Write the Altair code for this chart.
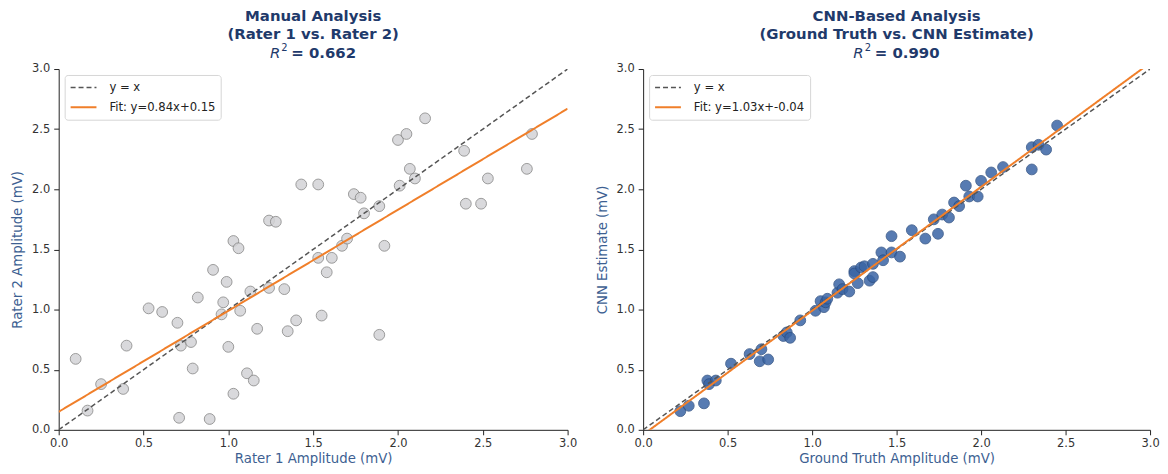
import altair as alt
import pandas as pd

# ---------------- data ----------------
manual_x = [0.10, 0.17, 0.25, 0.38, 0.40, 0.53, 0.61, 0.70, 0.72, 0.78,
            0.79, 0.71, 0.82, 0.91, 0.89, 0.96, 0.97, 0.99, 1.00, 1.03,
            1.03, 1.06, 1.07, 1.11, 1.13, 1.15, 1.17, 1.24, 1.24, 1.28,
            1.33, 1.35, 1.40, 1.43, 1.53, 1.53, 1.55, 1.58, 1.61, 1.67,
            1.70, 1.74, 1.78, 1.80, 1.89, 1.89, 1.92, 2.00, 2.01, 2.05,
            2.07, 2.10, 2.16, 2.39, 2.40, 2.49, 2.53, 2.76, 2.79]
manual_y = [0.59, 0.16, 0.38, 0.34, 0.70, 1.01, 0.98, 0.89, 0.70, 0.73,
            0.51, 0.10, 1.10, 1.33, 0.09, 0.96, 1.06, 1.23, 0.69, 0.30,
            1.57, 1.51, 0.99, 0.47, 1.15, 0.41, 0.84, 1.18, 1.74, 1.73,
            1.17, 0.82, 0.91, 2.04, 2.04, 1.43, 0.95, 1.31, 1.43, 1.53,
            1.59, 1.96, 1.93, 1.80, 1.86, 0.79, 1.53, 2.41, 2.03, 2.46,
            2.17, 2.09, 2.59, 2.32, 1.88, 1.88, 2.09, 2.17, 2.46]

cnn_x = [0.22, 0.27, 0.36, 0.38, 0.39, 0.43, 0.52, 0.63, 0.69, 0.70,
         0.74, 0.83, 0.85, 0.87, 0.93, 1.02, 1.05, 1.07, 1.08, 1.09,
         1.15, 1.16, 1.18, 1.22, 1.25, 1.25, 1.27, 1.29, 1.31, 1.34,
         1.36, 1.36, 1.41, 1.42, 1.47, 1.47, 1.52, 1.59, 1.67, 1.72,
         1.745, 1.77, 1.81, 1.84, 1.87, 1.91, 1.93, 1.98, 2.00, 2.06,
         2.13, 2.30, 2.30, 2.34, 2.385, 2.45]
cnn_y = [0.155, 0.20, 0.22, 0.41, 0.38, 0.41, 0.55, 0.63, 0.57, 0.67,
         0.585, 0.78, 0.81, 0.765, 0.91, 0.99, 1.07, 1.02, 1.06, 1.09,
         1.14, 1.21, 1.17, 1.15, 1.32, 1.30, 1.22, 1.35, 1.36, 1.24,
         1.27, 1.38, 1.475, 1.41, 1.475, 1.61, 1.44, 1.66, 1.59, 1.75,
         1.63, 1.79, 1.765, 1.89, 1.86, 2.03, 1.94, 1.94, 2.07, 2.14,
         2.185, 2.35, 2.165, 2.37, 2.33, 2.53]

line_x = [0.0, 3.0]
identity_y = [0.0, 3.0]
manual_fit_y = [0.15, 2.67]      # Fit: y=0.84x+0.15
cnn_fit_y = [-0.04, 3.05]        # Fit: y=1.03x-0.04

manual_labels = ["y = x", "Fit: y=0.84x+0.15"]
cnn_labels = ["y = x", "Fit: y=1.03x+-0.04"]

manual_title = ["Manual Analysis", "(Rater 1 vs. Rater 2)"]
cnn_title = ["CNN-Based Analysis", "(Ground Truth vs. CNN Estimate)"]
manual_r2 = "= 0.662"
cnn_r2 = "= 0.990"

ticks = [0.0, 0.5, 1.0, 1.5, 2.0, 2.5, 3.0]

FONT = "DejaVu Sans"
TITLE_COLOR = "#1f3a6b"
AXIS_TITLE_COLOR = "#3d5f92"
ORANGE = "#f07f2a"
DASH_GRAY = "#555555"


def panel(px, py, fit_y, labels, title_lines, r2_text, xtitle, ytitle,
          fill, stroke, opacity, w, h):
    pts = pd.DataFrame({"x": px, "y": py})
    lines = pd.DataFrame({
        "x": line_x + line_x,
        "y": identity_y + fit_y,
        "series": [labels[0]] * 2 + [labels[1]] * 2,
    })
    xs = alt.Scale(domain=[0, 3], nice=False)
    ys = alt.Scale(domain=[0, 3], nice=False)
    xaxis = alt.Axis(values=ticks, format=".1f", title=xtitle, labelFlush=False)
    yaxis = alt.Axis(values=ticks, format=".1f", title=ytitle)

    scatter = alt.Chart(pts).mark_point(
        shape="circle", filled=True, size=118, fill=fill, stroke=stroke,
        strokeWidth=0.9, opacity=opacity
    ).encode(
        x=alt.X("x:Q", scale=xs, axis=xaxis),
        y=alt.Y("y:Q", scale=ys, axis=yaxis),
    )

    leg = alt.Legend(
        title=None, orient="top-left", offset=6,
        symbolType="M-1,0H3", symbolSize=169, symbolStrokeWidth=1.8,
        labelFontSize=11.7, labelColor="#222222", labelFont=FONT,
        fillColor="white", strokeColor="#d6d6d6", cornerRadius=3,
        padding=5, rowPadding=5, labelOffset=25,
    )
    ln = alt.Chart(lines).mark_line(clip=True).encode(
        x=alt.X("x:Q", scale=xs, axis=xaxis),
        y=alt.Y("y:Q", scale=ys, axis=yaxis),
        color=alt.Color("series:N", sort=labels,
                        scale=alt.Scale(domain=labels, range=[DASH_GRAY, ORANGE]),
                        legend=leg),
        strokeDash=alt.StrokeDash("series:N", sort=labels,
                                  scale=alt.Scale(domain=labels, range=[[5, 3], [1, 0]]),
                                  legend=leg),
        strokeWidth=alt.StrokeWidth("series:N", sort=labels,
                                    scale=alt.Scale(domain=labels, range=[1.5, 2.0]),
                                    legend=leg),
    )

    # third title line: italic R with superscript 2, then bold "= value"
    one = pd.DataFrame({"t": [r2_text]})
    c = w / 2.0
    r_txt = alt.Chart(one).mark_text(
        text="R", font=FONT, fontSize=15, fontStyle="italic", fontWeight="normal",
        color=TITLE_COLOR, align="left", baseline="middle",
    ).encode(x=alt.value(c - 43.5), y=alt.value(-16))
    sup_txt = alt.Chart(one).mark_text(
        text="2", font=FONT, fontSize=10, fontWeight="normal",
        color=TITLE_COLOR, align="left", baseline="middle",
    ).encode(x=alt.value(c - 32), y=alt.value(-21))
    val_txt = alt.Chart(one).mark_text(
        font=FONT, fontSize=15, fontWeight="bold",
        color=TITLE_COLOR, align="left", baseline="middle",
    ).encode(x=alt.value(c - 22), y=alt.value(-16), text="t:N")

    return alt.layer(scatter, ln, r_txt, sup_txt, val_txt).properties(
        width=w, height=h,
        title=alt.TitleParams(
            text=title_lines, fontSize=15, fontWeight="bold", color=TITLE_COLOR,
            font=FONT, lineHeight=18, offset=1, anchor="middle", frame="group",
        ),
    )


left = panel(manual_x, manual_y, manual_fit_y, manual_labels, manual_title, manual_r2,
             "Rater 1 Amplitude (mV)", "Rater 2 Amplitude (mV)",
             "#d3d3d6", "#808080", 0.85, 512, 363)
right = panel(cnn_x, cnn_y, cnn_fit_y, cnn_labels, cnn_title, cnn_r2,
              "Ground Truth Amplitude (mV)", "CNN Estimate (mV)",
              "#3a65a5", "#2a4c80", 0.85, 510, 363)

chart = alt.hconcat(left, right, spacing=17).resolve_scale(
    color="independent", strokeDash="independent", strokeWidth="independent",
    x="independent", y="independent",
).resolve_legend(
    color="independent", strokeDash="independent", strokeWidth="independent",
).properties(
    padding={"left": 2, "top": 0, "right": 0, "bottom": 0},
).configure(font=FONT).configure_view(stroke=None).configure_axis(
    grid=False, domainColor="#222222", tickColor="#222222", tickSize=5,
    domainWidth=1, tickWidth=1,
    labelFontSize=11.5, labelColor="#333333", labelFont=FONT,
    titleFontSize=13.4, titleColor=AXIS_TITLE_COLOR, titleFontWeight="normal",
    titleFont=FONT,
).configure_axisX(titlePadding=2, labelPadding=3).configure_axisY(
    titlePadding=7, labelPadding=4)

chart.save("out.html", embed_options={"renderer": "svg", "actions": False})
